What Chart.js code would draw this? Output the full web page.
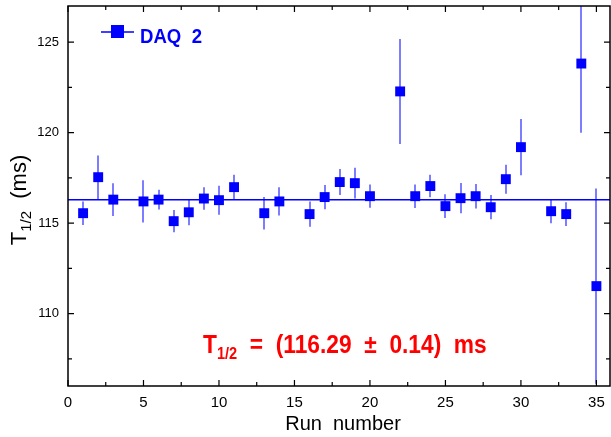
<!DOCTYPE html>
<html>
<head>
<meta charset="utf-8">
<script src="https://cdn.jsdelivr.net/npm/chart.js@4"></script>
<style>
  html, body { margin: 0; padding: 0; background: #fff; }
  #wrap { width: 611px; height: 437px; position: relative; }
</style>
</head>
<body>
<div id="wrap"><canvas id="chart"></canvas></div>
<script>
// run numbers, half-life values (ms) and their errors
const runs = [1, 2, 3, 5, 6, 7, 8, 9, 10, 11, 13, 14, 16, 17, 18, 19, 20, 22, 23, 24, 25, 26, 27, 28, 29, 30, 32, 33, 34, 35];
const halfLives = [115.55, 117.54, 116.3, 116.2, 116.3, 115.11, 115.6, 116.36, 116.27, 116.99, 115.55, 116.2, 115.5, 116.44, 117.27, 117.21, 116.49, 122.28, 116.49, 117.05, 115.94, 116.38, 116.49, 115.88, 117.43, 119.2, 115.66, 115.5, 123.82, 111.52];
const errors = [0.65, 1.2, 0.9, 1.17, 0.55, 0.62, 0.72, 0.62, 0.8, 0.68, 0.9, 0.78, 0.7, 0.67, 0.72, 0.85, 0.64, 2.9, 0.65, 0.62, 0.66, 0.84, 0.68, 0.67, 0.8, 1.55, 0.67, 0.66, 3.83, 5.4];
const meanValue = 116.29;
const xTickValues = [0, 5, 10, 15, 20, 25, 30, 35];
const xMinorValues = [2.5, 7.5, 12.5, 17.5, 22.5, 27.5, 32.5];
const yTickValues = [110, 115, 120, 125];
const yMinorValues = [107.5, 112.5, 117.5, 122.5];

const blue = '#0000ff';
const sans = '"Liberation Sans", Arial, sans-serif';

const errorBars = {
  id: 'errorBars',
  beforeDatasetsDraw(chart) {
    const ctx = chart.ctx, x = chart.scales.x, y = chart.scales.y, a = chart.chartArea;
    ctx.save();
    ctx.beginPath();
    ctx.rect(a.left, a.top, a.right - a.left, a.bottom - a.top);
    ctx.clip();
    ctx.strokeStyle = 'rgba(70,70,255,0.7)';
    ctx.lineWidth = 2;
    runs.forEach((r, i) => {
      const px = Math.round(x.getPixelForValue(r));
      ctx.beginPath();
      ctx.moveTo(px, y.getPixelForValue(halfLives[i] + errors[i]));
      ctx.lineTo(px, y.getPixelForValue(halfLives[i] - errors[i]));
      ctx.stroke();
    });
    ctx.restore();
  }
};

const frame = {
  id: 'frame',
  afterDraw(chart) {
    const ctx = chart.ctx, x = chart.scales.x, y = chart.scales.y, a = chart.chartArea;
    ctx.save();
    ctx.strokeStyle = '#000';
    ctx.lineWidth = 1.5;
    ctx.strokeRect(a.left, a.top, a.right - a.left, a.bottom - a.top);
    ctx.lineWidth = 1.2;
    const tickX = (v, len) => {
      const px = x.getPixelForValue(v);
      ctx.beginPath();
      ctx.moveTo(px, a.bottom); ctx.lineTo(px, a.bottom - len);
      ctx.moveTo(px, a.top); ctx.lineTo(px, a.top + len);
      ctx.stroke();
    };
    const tickY = (v, len) => {
      const py = y.getPixelForValue(v);
      ctx.beginPath();
      ctx.moveTo(a.left, py); ctx.lineTo(a.left + len, py);
      ctx.moveTo(a.right, py); ctx.lineTo(a.right - len, py);
      ctx.stroke();
    };
    xTickValues.forEach(v => tickX(v, 6));
    xMinorValues.forEach(v => tickX(v, 4));
    yTickValues.forEach(v => tickY(v, 6));
    yMinorValues.forEach(v => tickY(v, 4));

    // axis titles
    ctx.fillStyle = '#000';
    ctx.font = '20px ' + sans;
    ctx.textAlign = 'center';
    ctx.textBaseline = 'alphabetic';
    ctx.fillText('Run  number', 343, 430);

    ctx.save();
    ctx.translate(26, 200);
    ctx.rotate(-Math.PI / 2);
    ctx.textAlign = 'left';
    ctx.font = '22px ' + sans;
    const w1 = ctx.measureText('T').width;
    ctx.font = '15px ' + sans;
    const w2 = ctx.measureText('1/2').width;
    ctx.font = '22px ' + sans;
    const w3 = ctx.measureText('  (ms)').width;
    let sx = -(w1 + w2 + w3) / 2;
    ctx.fillText('T', sx, 0);
    ctx.font = '15px ' + sans;
    ctx.fillText('1/2', sx + w1, 5);
    ctx.font = '22px ' + sans;
    ctx.fillText('  (ms)', sx + w1 + w2, 0);
    ctx.restore();

    // legend
    ctx.strokeStyle = blue;
    ctx.lineWidth = 1.5;
    ctx.beginPath();
    ctx.moveTo(101, 32); ctx.lineTo(134, 32);
    ctx.stroke();
    ctx.fillStyle = blue;
    ctx.fillRect(111, 25, 13, 13);
    ctx.font = 'bold 20px ' + sans;
    ctx.textAlign = 'left';
    ctx.save();
    ctx.translate(140, 43);
    ctx.scale(0.93, 1);
    ctx.fillText('DAQ  2', 0, 0);
    ctx.restore();

    // fit result (narrow bold lettering)
    ctx.fillStyle = '#ff0000';
    ctx.save();
    ctx.translate(203, 353);
    ctx.scale(0.91, 1);
    let tx = 0;
    ctx.font = 'bold 25px ' + sans;
    ctx.fillText('T', tx, 0);
    tx += ctx.measureText('T').width;
    ctx.font = 'bold 16px ' + sans;
    ctx.fillText('1/2', tx, 6);
    tx += ctx.measureText('1/2').width;
    ctx.font = 'bold 25px ' + sans;
    ctx.fillText('  =  (116.29  \u00b1  0.14)  ms', tx, 0);
    ctx.restore();
    ctx.restore();
  }
};

const noPad = s => { s.paddingLeft = 0; s.paddingRight = 0; s.paddingTop = 0; s.paddingBottom = 0; };

new Chart(document.getElementById('chart'), {
  type: 'scatter',
  data: {
    datasets: [
      {
        label: 'DAQ 2',
        data: runs.map((r, i) => ({ x: r, y: halfLives[i] })),
        backgroundColor: blue,
        borderColor: blue,
        borderWidth: 0,
        pointStyle: 'rect',
        pointRadius: 7,
        pointHoverRadius: 7
      },
      {
        label: 'mean',
        type: 'line',
        data: [{ x: 0, y: meanValue }, { x: 35.9, y: meanValue }],
        borderColor: blue,
        borderWidth: 1.5,
        pointRadius: 0,
        fill: false
      }
    ]
  },
  plugins: [errorBars, frame],
  options: {
    responsive: true,
    maintainAspectRatio: false,
    animation: false,
    layout: { autoPadding: false, padding: { top: 6, right: 1, left: 0, bottom: 0 } },
    plugins: { legend: { display: false }, tooltip: { enabled: false } },
    scales: {
      x: {
        type: 'linear',
        min: 0,
        max: 35.9,
        afterBuildTicks: s => { s.ticks = xTickValues.map(v => ({ value: v })); },
        afterFit: s => { s.height = 51; noPad(s); },
        grid: { display: false, drawTicks: false },
        border: { display: false },
        ticks: { color: '#000', padding: 8, font: { size: 15, family: sans } }
      },
      y: {
        min: 106,
        max: 127,
        afterBuildTicks: s => { s.ticks = yTickValues.map(v => ({ value: v })); },
        afterFit: s => { s.width = 68; noPad(s); },
        grid: { display: false, drawTicks: false },
        border: { display: false },
        ticks: { color: '#000', padding: 9, font: { size: 13, family: sans } }
      }
    }
  }
});
</script>
</body>
</html>
